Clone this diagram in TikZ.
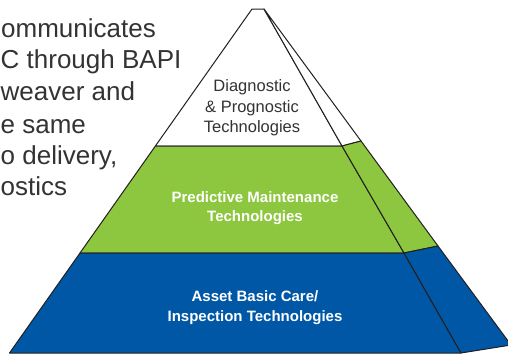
\documentclass[tikz,border=0pt]{standalone}
\usepackage{fontspec}
\setmainfont{Liberation Sans}
\usepackage{tikz}
\definecolor{lvlgreen}{RGB}{141,198,63}
\definecolor{lvlblue}{RGB}{0,87,166}
\definecolor{inkgray}{RGB}{51,51,51}
\definecolor{edgegray}{RGB}{35,31,32}
\tikzset{
  bodytext/.style={anchor=base west,inner sep=0pt,text=inkgray,font=\fontsize{26}{32}\selectfont},
  toplabel/.style={anchor=base,inner sep=0pt,text=inkgray,font=\fontsize{16.5}{20}\selectfont},
  lvllabel/.style={anchor=base,inner sep=0pt,text=white,font=\fontsize{15}{20}\selectfont\bfseries},
  edge/.style={draw=edgegray,line width=1pt,line join=round}
}

\begin{document}
\begin{tikzpicture}[x=1pt,y=-1pt]
                      \clip (0,0) rectangle (508,354);
                      \fill[white] (0,0) rectangle (508,354);
                      \node[bodytext] (t1) at (1,37) {ommunicates};
                      \node[bodytext] (t2) at (0.5,68) {C through BAPI};
                      \node[bodytext] (t3) at (0.5,100) {weaver and};
                      \node[bodytext] (t4) at (0.5,133) {e same};
                      \node[bodytext] (t5) at (0.5,164) {o delivery,};
                      \node[bodytext] (t6) at (0.5,195) {ostics};
                      \filldraw[edge,fill=white] (252,9) --(264,9) --(342,146) --(155.4,146) --cycle;
                      \filldraw[edge,fill=white] (264,9) --(361,141) --(342,146) --cycle;
                      \filldraw[edge,fill=lvlgreen] (155.4,146) --(342,146) --(404,253) --(80,253) --cycle;
                      \filldraw[edge,fill=lvlgreen] (342,146) --(361,141) --(438,246) --(404,253) --cycle;
                      \filldraw[edge,fill=lvlblue] (80,253) --(404,253) --(461,353) --(9.5,353) --cycle;
                      \filldraw[edge,fill=lvlblue] (404,253) --(438,246) --(511,345) --(461,353) --cycle;
                      \node[toplabel] (d1) at (252,91) {Diagnostic};
                      \node[toplabel] (d2) at (252,112) {\& Prognostic};
                      \node[toplabel] (d3) at (252,132) {Technologies};
                      \node[lvllabel] (p1) at (255,202) {Predictive Maintenance};
                      \node[lvllabel] (p2) at (255,221) {Technologies};
                      \node[lvllabel] (a1) at (255,301) {Asset Basic Care/};
                      \node[lvllabel] (a2) at (255,321) {Inspection Technologies};
                  \end{tikzpicture}
\end{document}
